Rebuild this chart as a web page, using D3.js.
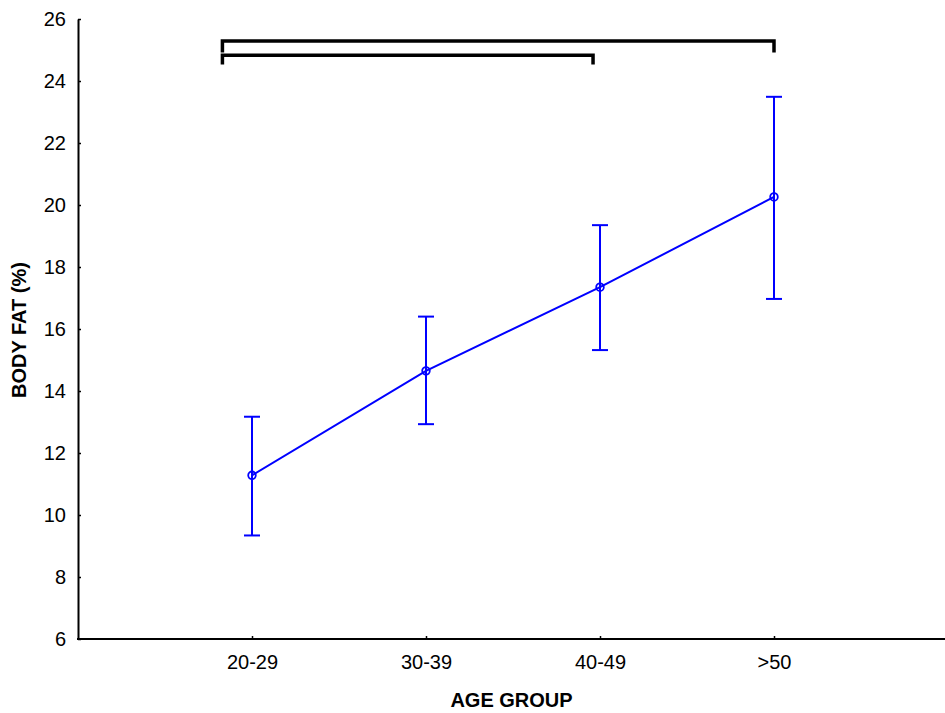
<!DOCTYPE html>
<html>
<head>
<meta charset="utf-8">
<script src="https://cdn.jsdelivr.net/npm/d3@7"></script>
<style>
  html, body { margin: 0; padding: 0; background: #fff; }
  svg { display: block; }
  text { font-family: "Liberation Sans", Arial, sans-serif; fill: #000; }
</style>
</head>
<body>
<svg id="chart" width="945" height="713"></svg>
<script>
// Age groups and mean body fat with error bar limits
const ageGroups = ["20-29", "30-39", "40-49", ">50"];
const meanFat   = [11.28, 14.65, 17.35, 20.26];
const upperFat  = [13.17, 16.40, 19.35, 23.49];
const lowerFat  = [9.34, 12.93, 15.32, 16.97];
const yTicks    = [6, 8, 10, 12, 14, 16, 18, 20, 22, 24, 26];

// Significance brackets (x in group-index units, y in % body fat)
const bracketFrom  = [-0.17, -0.17];
const bracketTo    = [3.0, 1.96];
const bracketLevel = [25.29, 24.83];
const bracketTip   = [24.92, 24.53];

const svg = d3.select("#chart");
const mLeft = 78, mRight = 945, mTop = 19, mBottom = 639;
const fontSize = "20px";

const x = d3.scalePoint().domain(ageGroups).range([mLeft, mLeft + 174 * 5]).padding(1);
const xIdx = d3.scaleLinear().domain([0, 3]).range([x(ageGroups[0]), x(ageGroups[3])]);
const y = d3.scaleLinear().domain([6, 26]).range([mBottom, mTop]);

// Y axis: ticks point inward
const yAxis = svg.append("g").attr("transform", `translate(${mLeft},0)`)
  .call(d3.axisLeft(y).tickValues(yTicks).tickSizeInner(-3).tickSizeOuter(0).tickPadding(12));
yAxis.select(".domain").attr("stroke", "#000").attr("stroke-width", 2);
yAxis.selectAll(".tick line").attr("stroke", "#000").attr("stroke-width", 1.5);
yAxis.selectAll(".tick text").attr("font-size", fontSize).attr("font-family", "Liberation Sans, Arial, sans-serif")
  .attr("x", -12);

// X axis: baseline across the full width, ticks point upward
const xAxis = svg.append("g").attr("transform", `translate(0,${mBottom})`)
  .call(d3.axisBottom(x).tickSizeInner(-3).tickSizeOuter(0).tickPadding(0));
xAxis.select(".domain").remove();
xAxis.append("line").attr("x1", mLeft - 1).attr("x2", mRight).attr("y1", 0).attr("y2", 0)
  .attr("stroke", "#000").attr("stroke-width", 2);
xAxis.selectAll(".tick line").attr("stroke", "#000").attr("stroke-width", 1.5);
xAxis.selectAll(".tick text").attr("font-size", fontSize).attr("font-family", "Liberation Sans, Arial, sans-serif")
  .attr("dy", null).attr("y", 30);

// Axis titles
svg.append("text").attr("x", (mLeft + mRight) / 2).attr("y", 707)
  .attr("text-anchor", "middle").attr("font-size", fontSize).attr("font-weight", "bold")
  .text("AGE GROUP");
svg.append("text").attr("transform", `translate(26,${(mTop + mBottom) / 2 + 1}) rotate(-90)`)
  .attr("text-anchor", "middle").attr("font-size", fontSize).attr("font-weight", "bold")
  .text("BODY FAT (%)");

const blue = "#0000ff";
const plot = svg.append("g");

// Error bars
ageGroups.forEach((g, i) => {
  const cx = x(g);
  plot.append("line").attr("x1", cx).attr("x2", cx).attr("y1", y(upperFat[i])).attr("y2", y(lowerFat[i]))
    .attr("stroke", blue).attr("stroke-width", 2);
  [upperFat[i], lowerFat[i]].forEach(v => {
    plot.append("line").attr("x1", cx - 8).attr("x2", cx + 8).attr("y1", y(v)).attr("y2", y(v))
      .attr("stroke", blue).attr("stroke-width", 2);
  });
});

// Mean line and open markers
const line = d3.line().x((d, i) => x(ageGroups[i])).y(d => y(d));
plot.append("path").datum(meanFat).attr("d", line)
  .attr("fill", "none").attr("stroke", blue).attr("stroke-width", 2);
plot.selectAll("circle.mean").data(meanFat).join("circle")
  .attr("class", "mean")
  .attr("cx", (d, i) => x(ageGroups[i])).attr("cy", d => y(d)).attr("r", 3.8)
  .attr("fill", "none").attr("stroke", blue).attr("stroke-width", 1.8);

// Significance brackets
bracketFrom.forEach((f, i) => {
  const x0 = xIdx(f), x1 = xIdx(bracketTo[i]);
  const yl = y(bracketLevel[i]), yt = y(bracketTip[i]);
  svg.append("path")
    .attr("d", `M${x0},${yt}V${yl}H${x1}V${yt}`)
    .attr("fill", "none").attr("stroke", "#000").attr("stroke-width", 3.5)
    .attr("stroke-linejoin", "miter").attr("stroke-linecap", "butt");
});
</script>
</body>
</html>
